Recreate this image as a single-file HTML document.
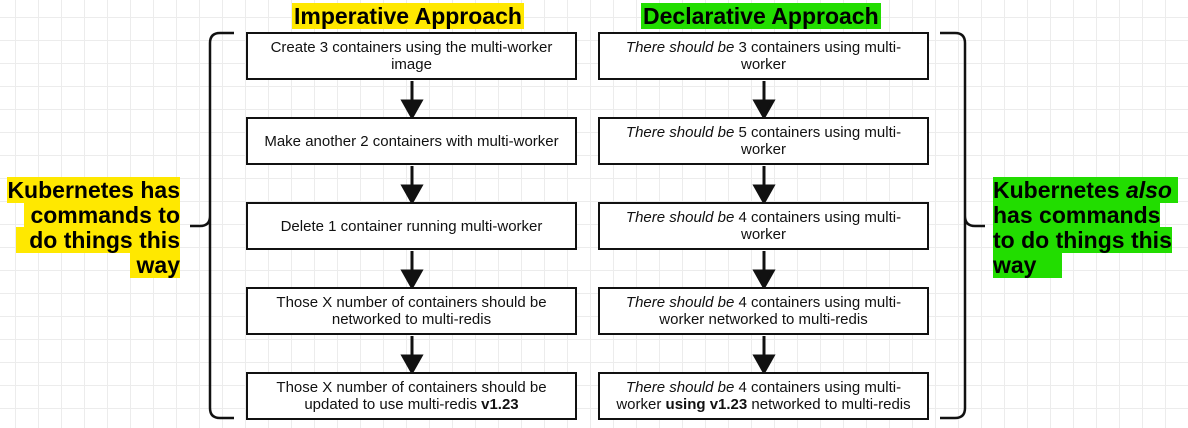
<!DOCTYPE html>
<html><head><meta charset="utf-8"><style>
body{margin:0;width:1188px;height:428px;overflow:hidden;background:#fff;
background-image:linear-gradient(#ececec 1px,transparent 1px),linear-gradient(90deg,#ececec 1px,transparent 1px);background-size:23px 23px;background-position:-8px -6px;
font-family:"Liberation Sans",Arial,sans-serif;position:relative}
.box{position:absolute;width:331px;height:48px;box-sizing:border-box;border:2.5px solid #111;background:#fff;display:flex;align-items:center;justify-content:center;text-align:center;font-size:15px;line-height:17px;color:#111;padding:0 12px}
.title{position:absolute;font-weight:bold;font-size:23px;top:3px;line-height:26px}
.side{position:absolute;font-weight:bold;font-size:23px;line-height:25px;color:#000}
.hy{background:#ffe800}.hg{background:#22dd00}
</style></head><body>
<div class="title" style="left:292px;"><span class="hy" style="padding:0 2px">Imperative Approach</span></div>
<div class="title" style="left:641px;"><span class="hg" style="padding:0 2px">Declarative Approach</span></div>

<svg width="1188" height="428" style="position:absolute;left:0;top:0">
<g fill="none" stroke="#111" stroke-width="2.5">
<path d="M234 33 H220 Q210 33 210 43 V216 Q210 226 200 226 H190 M210 216 V408 Q210 418 220 418 H234"/>
<path d="M940 33 H955 Q965 33 965 43 V216 Q965 226 975 226 H985 M965 216 V408 Q965 418 955 418 H940"/>
</g>
<g stroke="#111" stroke-width="3" fill="#111">
<line x1="412" y1="81" x2="412" y2="104"/><polygon points="403,101 421,101 412,117"/>
<line x1="412" y1="166" x2="412" y2="189"/><polygon points="403,186 421,186 412,202"/>
<line x1="412" y1="251" x2="412" y2="274"/><polygon points="403,271 421,271 412,287"/>
<line x1="412" y1="336" x2="412" y2="359"/><polygon points="403,356 421,356 412,372"/>
<line x1="764" y1="81" x2="764" y2="104"/><polygon points="755,101 773,101 764,117"/>
<line x1="764" y1="166" x2="764" y2="189"/><polygon points="755,186 773,186 764,202"/>
<line x1="764" y1="251" x2="764" y2="274"/><polygon points="755,271 773,271 764,287"/>
<line x1="764" y1="336" x2="764" y2="359"/><polygon points="755,356 773,356 764,372"/>
</g>
</svg>

<div class="box" style="left:246px;top:32px">Create 3 containers using the multi-worker image</div>
<div class="box" style="left:246px;top:117px">Make another 2 containers with multi-worker</div>
<div class="box" style="left:246px;top:202px">Delete 1 container running multi-worker</div>
<div class="box" style="left:246px;top:287px">Those X number of containers should be networked to multi-redis</div>
<div class="box" style="left:246px;top:372px"><span>Those X number of containers should be updated to use multi-redis <b>v1.23</b></span></div>

<div class="box" style="left:598px;top:32px"><span><i>There should be</i> 3 containers using multi-worker</span></div>
<div class="box" style="left:598px;top:117px"><span><i>There should be</i> 5 containers using multi-worker</span></div>
<div class="box" style="left:598px;top:202px"><span><i>There should be</i> 4 containers using multi-worker</span></div>
<div class="box" style="left:598px;top:287px"><span><i>There should be</i> 4 containers using multi-worker networked to multi-redis</span></div>
<div class="box" style="left:598px;top:372px;padding:0 8px"><span><i>There should be</i> 4 containers using multi-worker <b>using v1.23</b> networked to multi-redis</span></div>

<div class="side" style="right:1008px;top:178px;text-align:right;width:200px">
<span class="hy">Kubernetes has</span><br><span class="hy">&nbsp;commands to</span><br><span class="hy">&nbsp;&nbsp;do things this</span><br><span class="hy">&nbsp;way</span></div>
<div class="side" style="left:993px;top:178px;width:195px">
<span class="hg">Kubernetes <i>also</i>&nbsp;</span><br><span class="hg">has commands</span><br><span class="hg">to do things this</span><br><span class="hg">way&nbsp;&nbsp;&nbsp;&nbsp;</span></div>
</body></html>
